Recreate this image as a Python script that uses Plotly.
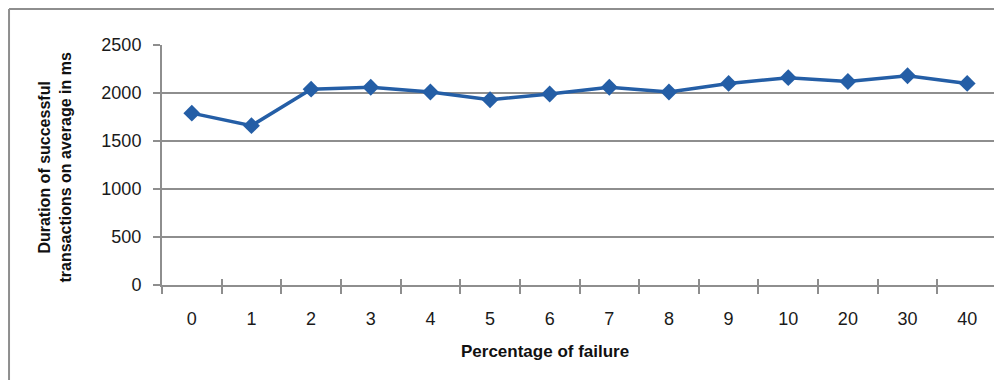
import plotly.graph_objects as go

categories = ["0", "1", "2", "3", "4", "5", "6", "7", "8", "9", "10", "20", "30", "40"]
durations = [1790, 1660, 2040, 2060, 2010, 1930, 1990, 2060, 2010, 2100, 2160, 2120, 2180, 2100]
y_ticks = [0, 500, 1000, 1500, 2000, 2500]

x_title = "Percentage of failure"
y_title = "Duration of successful<br>transactions on average in ms"

GRID = "#8e8e8e"
BLUE = "#245ea6"
FONT = "Liberation Sans"

fig = go.Figure()
fig.add_trace(go.Scatter(
    x=categories, y=durations, mode="lines+markers",
    line=dict(color=BLUE, width=3.5),
    marker=dict(symbol="diamond", size=13, color=BLUE),
    showlegend=False, cliponaxis=False,
))
# invisible trace to hold overlay axis for the inside half of crossing ticks
fig.add_trace(go.Scatter(x=categories, y=durations, xaxis="x2", yaxis="y",
                         mode="markers", marker=dict(opacity=0), showlegend=False,
                         hoverinfo="skip"))

fig.update_layout(
    width=994, height=372,
    margin=dict(l=154, r=5, t=37, b=95),
    paper_bgcolor="white", plot_bgcolor="white",
    font=dict(family=FONT, size=18, color="#1a1a1a"),
    xaxis=dict(
        type="category", categoryorder="array", categoryarray=categories,
        tickson="boundaries", ticks="outside", ticklen=7, tickwidth=1.5, tickcolor=GRID,
        showline=True, linecolor=GRID, linewidth=2, showgrid=False,
        ticklabelstandoff=16, tickfont=dict(size=18, color="#1a1a1a"),
        range=[-0.5, 13.5],
    ),
    xaxis2=dict(
        type="category", categoryorder="array", categoryarray=categories,
        overlaying="x", anchor="y", side="bottom",
        tickson="boundaries", ticks="inside", ticklen=6, tickwidth=1.5, tickcolor=GRID,
        showticklabels=False, showline=False, showgrid=False,
        range=[-0.5, 13.5],
    ),
    yaxis=dict(
        range=[0, 2500], tickvals=y_ticks, ticks="outside", ticklen=7,
        tickwidth=2, tickcolor=GRID,
        showgrid=True, gridcolor=GRID, gridwidth=2,
        showline=True, linecolor=GRID, linewidth=2, zeroline=False,
        ticklabelstandoff=8, tickfont=dict(size=18, color="#1a1a1a"),
    ),
    annotations=[
        dict(text="<b>" + x_title + "</b>", xref="paper", yref="paper",
             x=0.4587, y=-0.279, xanchor="center", yanchor="middle", showarrow=False,
             font=dict(family=FONT, size=17, color="#111")),
        dict(text="<b>" + y_title + "</b>", xref="paper", yref="paper",
             x=-0.128, y=0.49, xanchor="center", yanchor="middle", showarrow=False,
             align="center", textangle=-90, font=dict(family=FONT, size=16, color="#111")),
    ],
    shapes=[
        dict(type="line", xref="paper", yref="paper", x0=-0.1832, x1=1.02, y0=1.15, y1=1.15,
             line=dict(color=GRID, width=2)),
        dict(type="line", xref="paper", yref="paper", x0=-0.1832, x1=-0.1832, y0=1.15, y1=-0.45,
             line=dict(color=GRID, width=2)),
    ],
)

fig.write_html("out.html")
